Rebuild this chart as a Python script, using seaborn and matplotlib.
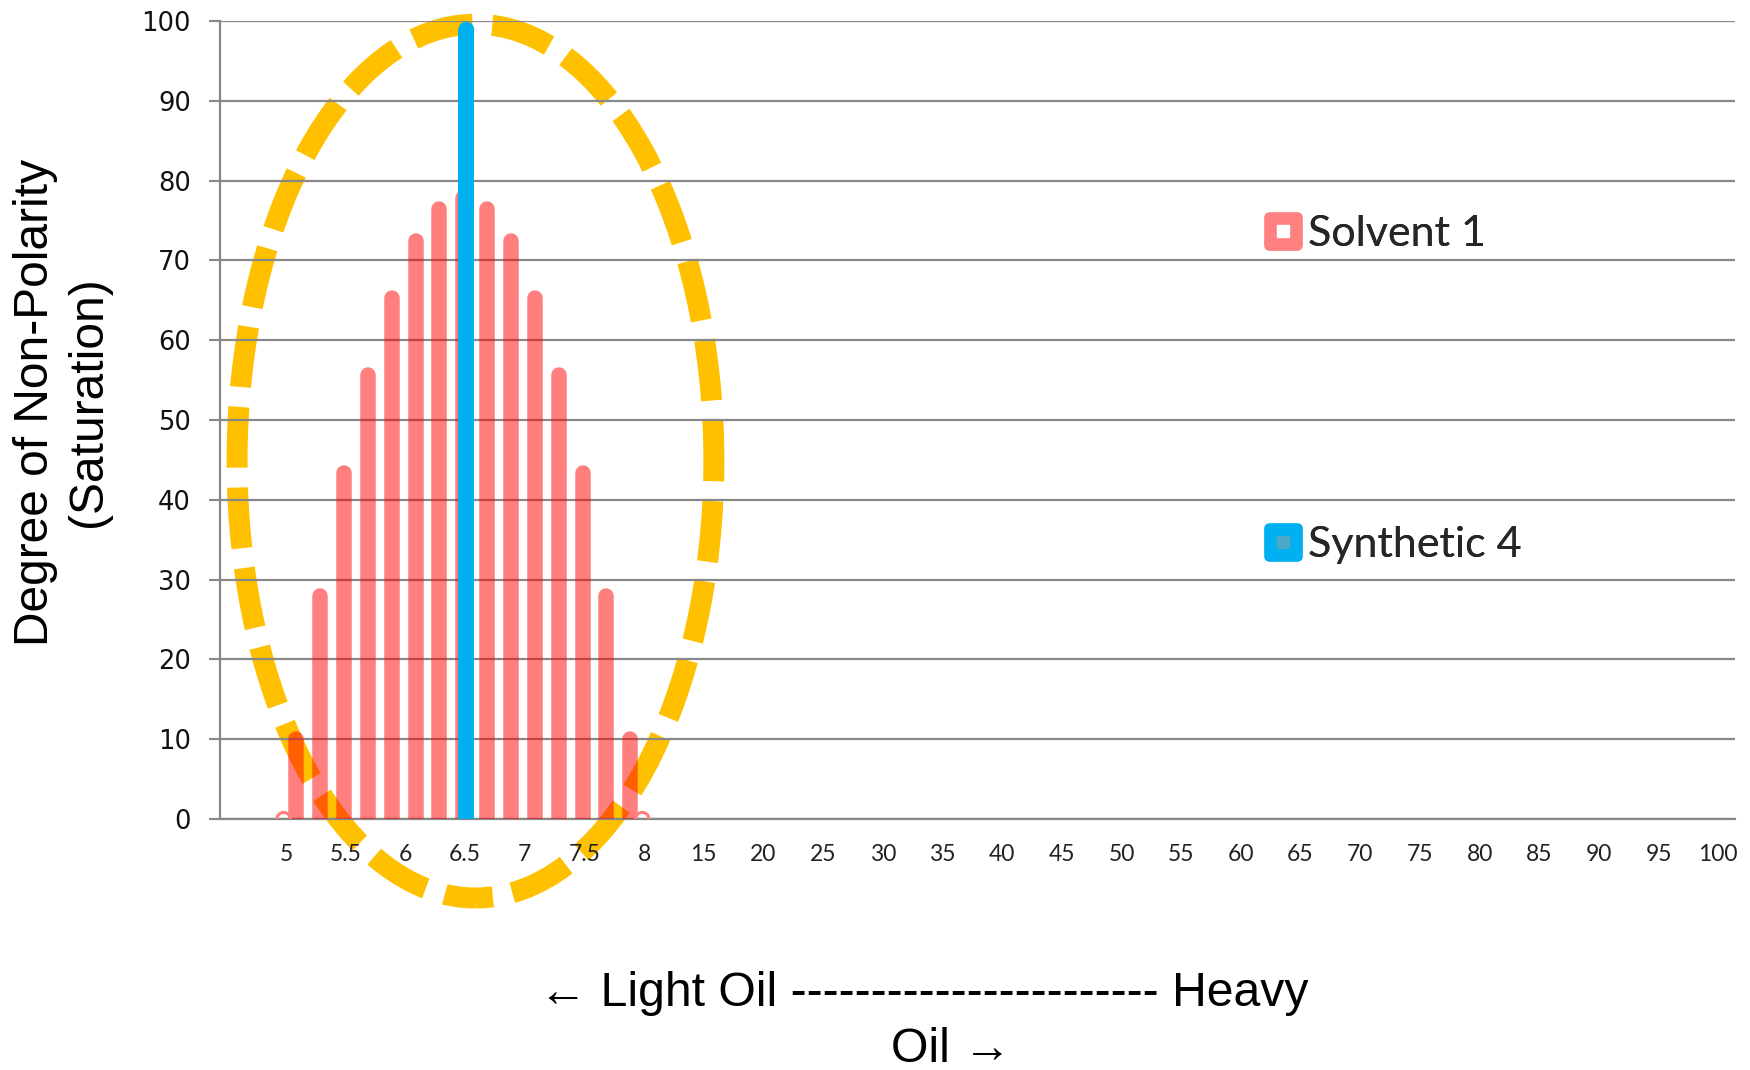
import numpy as np
import pandas as pd
import matplotlib
matplotlib.use("Agg")
import matplotlib.pyplot as plt
from matplotlib.patches import Ellipse, FancyBboxPatch
from matplotlib.markers import MarkerStyle
from matplotlib.lines import Line2D
from matplotlib.legend_handler import HandlerTuple
import seaborn as sns

# ---------------- data ----------------
x_tick_labels = ["5", "5.5", "6", "6.5", "7", "7.5", "8", "15", "20", "25", "30", "35",
                 "40", "45", "50", "55", "60", "65", "70", "75", "80", "85", "90", "95", "100"]
# positions on the category axis (label i sits at position i)
solvent_pos = [-0.04, 0.17, 0.57, 0.97, 1.37, 1.77, 2.17, 2.57, 2.97,
               3.37, 3.77, 4.17, 4.57, 4.97, 5.37, 5.77, 5.97]
solvent_vals = [0, 10, 28, 43.4, 55.6, 65.3, 72.4, 76.4, 77.8,
                76.4, 72.4, 65.3, 55.6, 43.4, 28, 10, 0]
synthetic_pos = [3.02]
synthetic_vals = [98.9]
y_ticks = [0, 10, 20, 30, 40, 50, 60, 70, 80, 90, 100]
series_names = ["Solvent 1", "Synthetic 4"]

# highlight ellipse (data units)
ell_center = (3.175, 44.85)
ell_size = (7.99, 109.5)

# ---------------- style ----------------
sns.set_theme(style="white")
plt.rcParams["font.family"] = ["DejaVu Sans"]

W, H = 1750, 1070
fig = plt.figure(figsize=(W / 100, H / 100), dpi=100)
ax_l, ax_r, ax_b, ax_t = 220, 1735, 819, 21
ax = fig.add_axes([ax_l / W, 1 - ax_b / H, (ax_r - ax_l) / W, (ax_b - ax_t) / H])

xmin, xmax = -1.106, 24.28
px_per_x = (ax_r - ax_l) / (xmax - xmin)

GRID = "#888888"
PINK = "red"
BLUE = "#00B0F0"
ORANGE = "#FFC000"

# ---------------- Solvent 1: rounded translucent bars ----------------
df_s = pd.DataFrame({"pos": solvent_pos, "value": solvent_vals})
df_s["bar"] = np.arange(len(df_s))
nz = df_s[df_s["value"] > 0]
long = pd.concat([nz.assign(value=0.0), nz]).sort_values(["bar", "value"])
pink_w = 0.26
sns.lineplot(data=long, x="pos", y="value", units="bar", estimator=None, sort=False,
             color=PINK, alpha=0.5, linewidth=pink_w * px_per_x * 0.72,
             solid_capstyle="round", ax=ax, zorder=3, legend=False)
zero = df_s[df_s["value"] == 0]
sns.scatterplot(data=zero, x="pos", y="value", marker="o", s=90,
                facecolor="none", edgecolor="#FF8080", linewidth=2.2, ax=ax,
                zorder=3, legend=False)

# ---------------- Synthetic 4: rounded bar ----------------
df_b = pd.DataFrame({"pos": synthetic_pos, "value": synthetic_vals})
blue_w = 0.27
sns.barplot(data=df_b, x="pos", y="value", native_scale=True, width=blue_w,
            color=BLUE, saturation=1, linewidth=0, errorbar=None, ax=ax, zorder=4)
sns.scatterplot(data=df_b, x="pos", y="value", marker="o", s=(blue_w * px_per_x * 0.72) ** 2,
                color=BLUE, linewidth=0, edgecolor="none", ax=ax, zorder=4, legend=False)

# dashed highlight ellipse
ell = Ellipse(ell_center, ell_size[0], ell_size[1], fill=False, edgecolor=ORANGE,
              linewidth=15.1, linestyle=(2.07, (2.9, 0.95)), clip_on=False, zorder=0.3)
ax.add_patch(ell)

# ---------------- axes ----------------
ax.set_xlim(xmin, xmax)
ax.set_ylim(0, 100)
ax.set_xticks(range(len(x_tick_labels)))
ax.set_xticklabels(x_tick_labels, family=["Lato", "DejaVu Sans"], fontsize=16.5,
                   color="#222222")
ax.set_xticks([xmin, xmin + 10, xmin + 20], minor=True)
ax.set_yticks(y_ticks)
ax.set_yticklabels([str(v) for v in y_ticks], fontsize=18.5, color="#111111")
ax.tick_params(axis="x", which="major", length=0, pad=18)
ax.tick_params(axis="x", which="minor", length=7, width=1.3, color=GRID, direction="out")
ax.tick_params(axis="y", which="major", length=8, width=1.5, color=GRID, pad=13,
               direction="out", left=True)
ax.set_axisbelow(True)
ax.yaxis.grid(True, color=GRID, linewidth=1.6, zorder=0.5)
ax.xaxis.grid(False)
for s in ["top", "right"]:
    ax.spines[s].set_visible(False)
for s in ["left", "bottom"]:
    ax.spines[s].set_color(GRID)
    ax.spines[s].set_linewidth(1.6)
ax.set_xlabel("")
ax.set_ylabel("")

# ---------------- titles ----------------
title_font = ["Liberation Sans", "DejaVu Sans"]
fig.text(62 / W, 1 - 402 / H, "Degree of Non-Polarity\n(Saturation)", rotation=90,
         ha="center", va="center", multialignment="center", fontsize=34.5,
         family=title_font, color="black", linespacing=1.2)
fig.text(924 / W, 1 - 993 / H, "\u2190 Light Oil ----------------------- Heavy",
         ha="center", va="center", fontsize=34.7, family=title_font, color="black")
fig.text(951 / W, 1 - 1062 / H, "Oil \u2192",
         ha="center", va="baseline", fontsize=34.7, family=title_font, color="black")

# ---------------- legend ----------------
rounded_sq = MarkerStyle(FancyBboxPatch((-0.5, -0.5), 1, 1,
                                        boxstyle="round,pad=0,rounding_size=0.14").get_path())

def legend_handle(outer, inner):
    o = Line2D([], [], linestyle="none", marker=rounded_sq, markersize=27.5,
               markerfacecolor=outer, markeredgecolor=outer, markeredgewidth=0)
    i = Line2D([], [], linestyle="none", marker="s", markersize=9, markerfacecolor=inner,
               markeredgecolor=inner)
    return (o, i)

entries = [(series_names[0], "#FF8080", "white", 234),
           (series_names[1], BLUE, "#4BA9C6", 545)]
for name, outer, inner, yc in entries:
    leg = fig.legend([legend_handle(outer, inner)], [name],
                     handler_map={tuple: HandlerTuple(ndivide=1)},
                     loc="center left", bbox_to_anchor=(1261 / W, 1 - yc / H),
                     frameon=False, borderpad=0, borderaxespad=0, handlelength=1.0,
                     handletextpad=0.1, prop={"family": ["Lato", "DejaVu Sans"], "size": 31})
    fig.add_artist(leg)

fig.savefig("out.png", dpi=100)
